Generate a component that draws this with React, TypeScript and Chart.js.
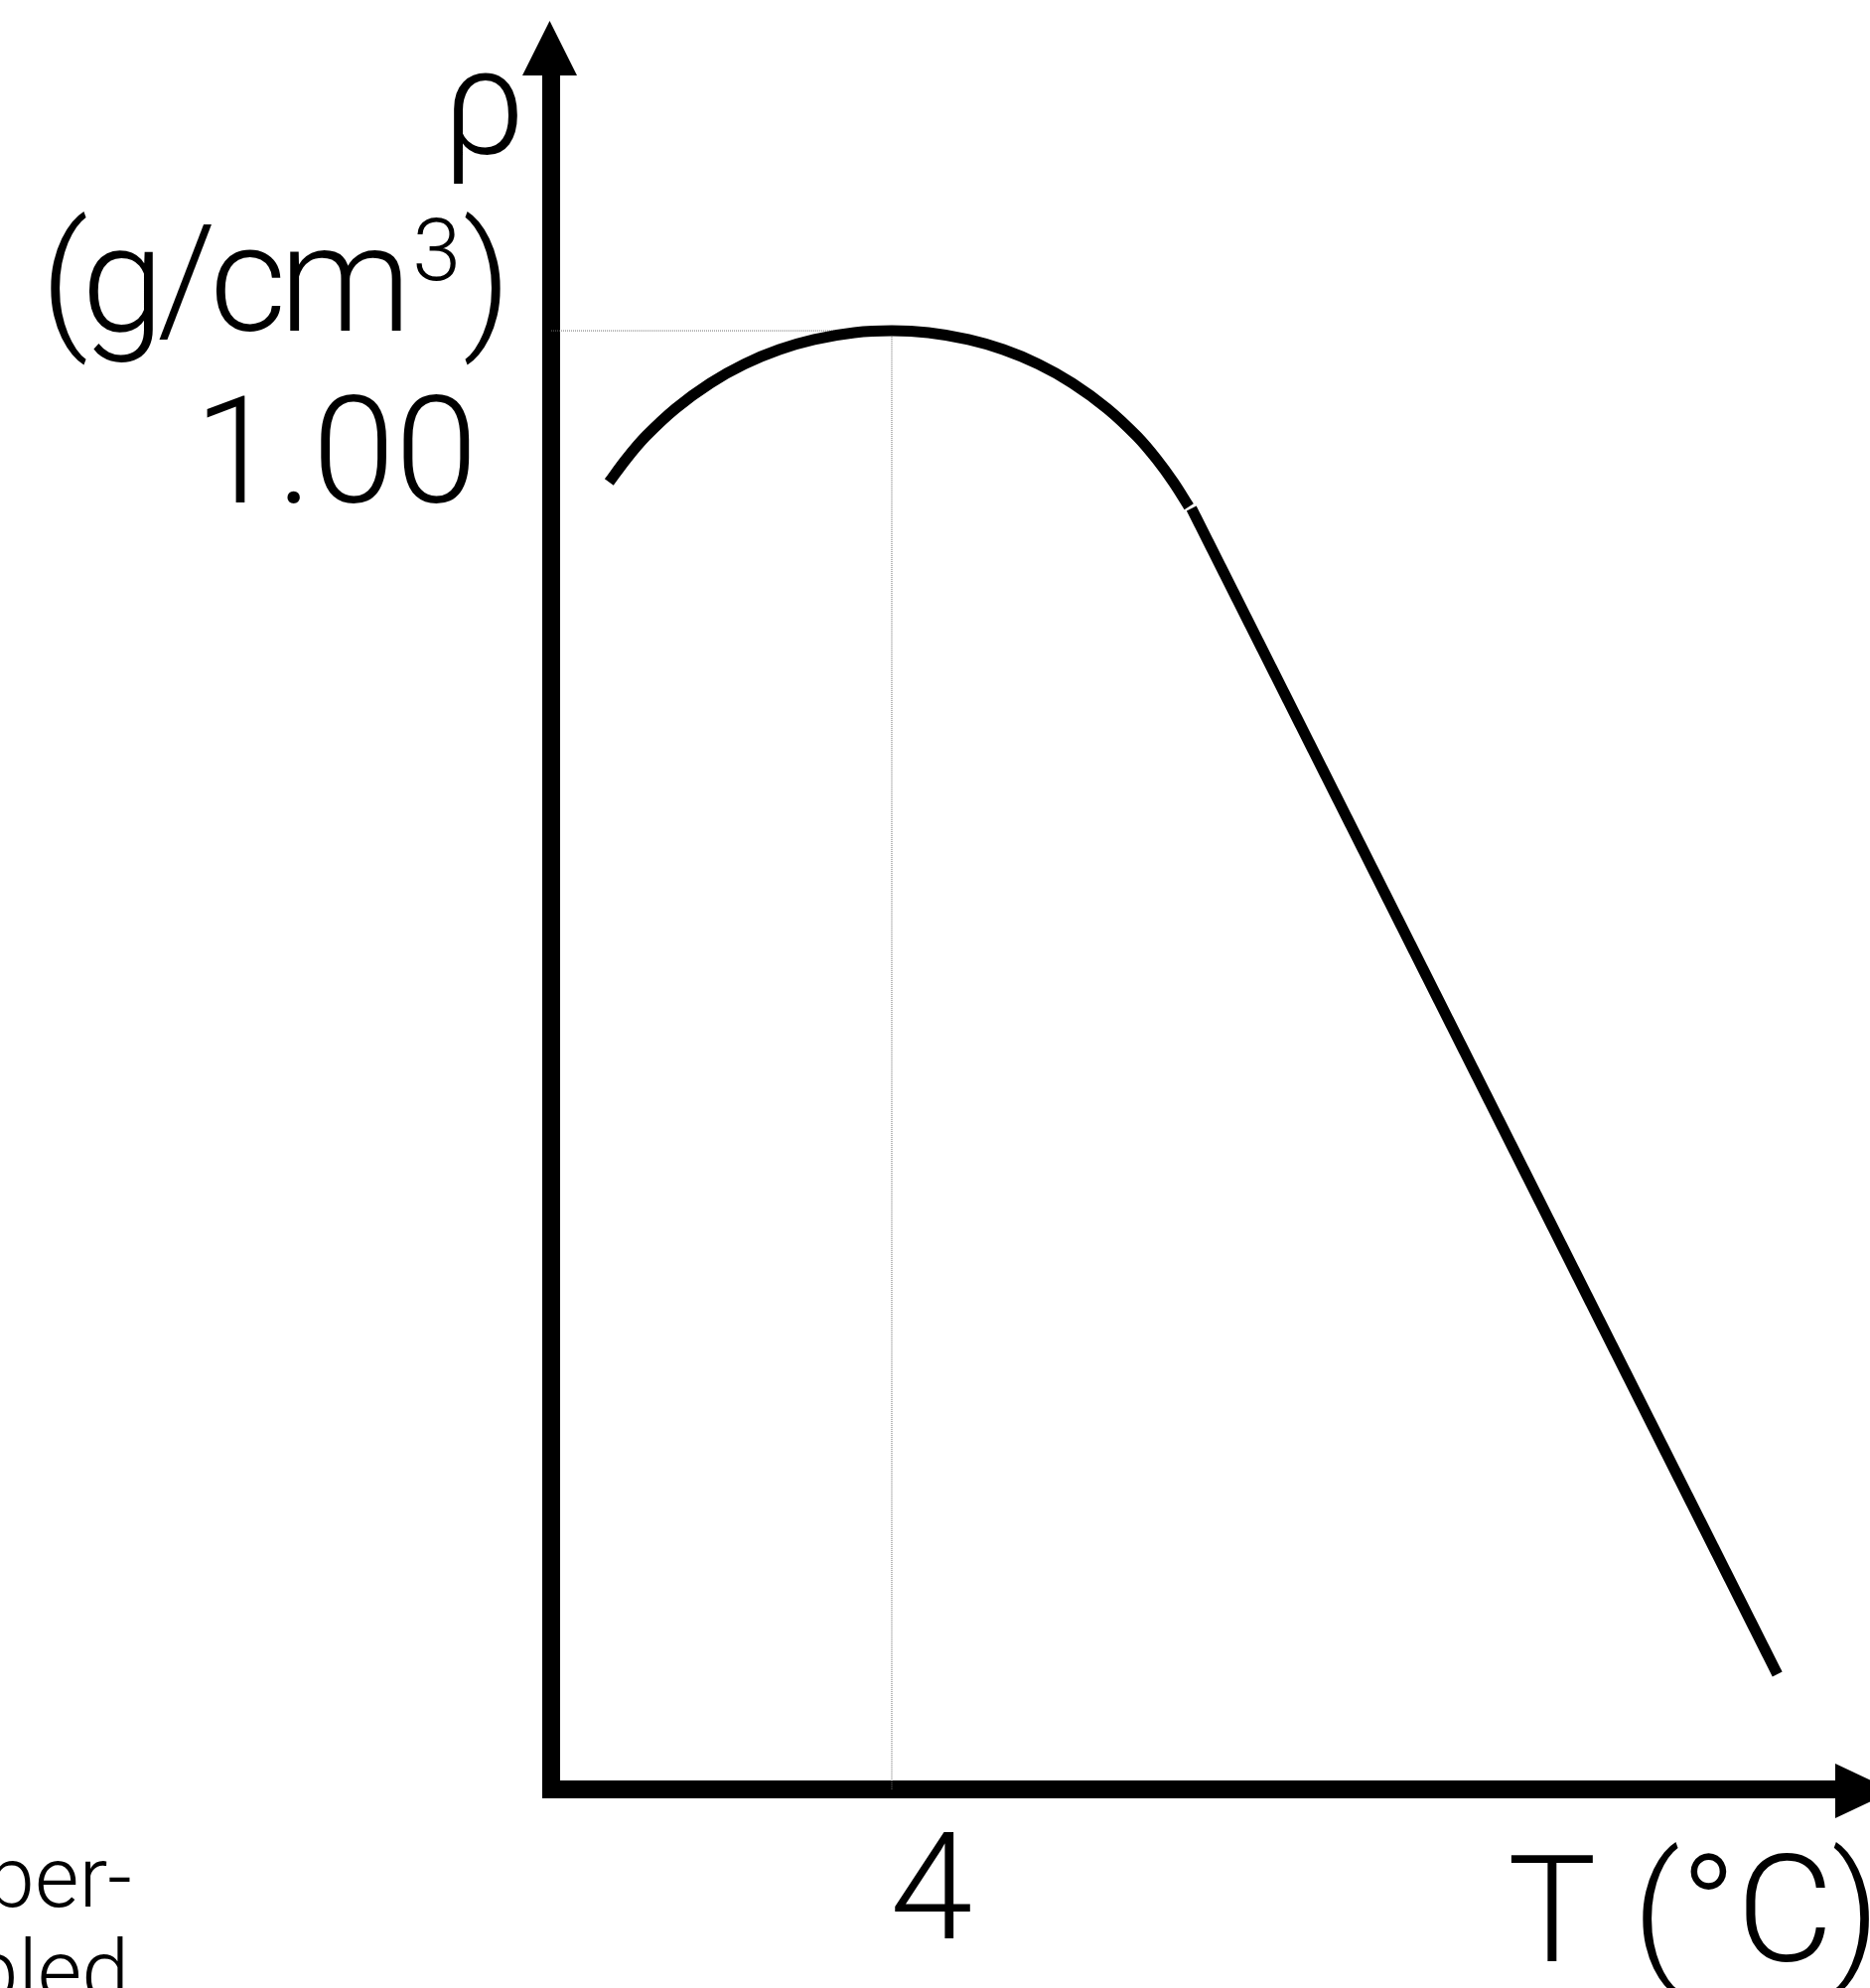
import React, { useEffect, useRef } from "react";
import { Chart, registerables } from "chart.js";

Chart.register(...registerables);

// Density of water near its maximum: a rounded cap peaking at 4 °C,
// followed by a straight falloff at higher temperatures.
const arcTemperature = [0.68, 0.88, 1.11, 1.46, 1.87, 2.27, 2.68, 3.09, 3.56, 4.0, 4.43, 4.9, 5.31, 5.72, 6.12, 6.53, 6.88, 7.11, 7.31, 7.49];
const arcDensity = [0.98754, 0.98943, 0.99131, 0.9936, 0.99569, 0.99726, 0.99845, 0.99928, 0.99984, 1.0, 0.99984, 0.99928, 0.99845, 0.99726, 0.99569, 0.9936, 0.99131, 0.98943, 0.98751, 0.98552];

const tailTemperature = [7.52, 14.4];
const tailDensity = [0.98538, 0.88948];

// Reference marks for the maximum
const peakTemperature = 4;
const peakDensity = 1.0;

// Axis ranges
const temperatureRange = [0, 15.08];
const densityRange = [0.88, 1.021];

// Labels
const xTickLabels = ["4"];
const yTickLabels = ["1.00"];
const yAxisSymbol = "ρ";
const yAxisUnitParts = ["(g/cm", "3", ")"];
const xAxisTitle = "T (°C)";
const sideNoteLines = ["per-", "pled"];

const FONT = 'Roboto, "Liberation Sans", Arial, sans-serif';
const WEIGHT = 350;

const toPoints = (xs: number[], ys: number[]) => xs.map((x, i) => ({ x, y: ys[i] }));

const decorPlugin = {
  id: "axisDecor",
  afterDraw(chart: any) {
    const { ctx, chartArea, scales } = chart;
    const xs = scales.x;
    const ys = scales.y;
    const L = chartArea.left;
    const B = chartArea.bottom;
    ctx.save();
    ctx.fillStyle = "#000";

    // arrowhead on the vertical axis
    const ax = L - 1.5;
    ctx.beginPath();
    ctx.moveTo(ax - 27.5, chartArea.top);
    ctx.lineTo(ax + 27.5, chartArea.top);
    ctx.lineTo(ax, chartArea.top - 55);
    ctx.closePath();
    ctx.fill();

    // arrowhead on the horizontal axis
    const ay = B + 1.5;
    ctx.beginPath();
    ctx.moveTo(chartArea.right, ay - 27.5);
    ctx.lineTo(chartArea.right, ay + 27.5);
    ctx.lineTo(chartArea.right + 58, ay);
    ctx.closePath();
    ctx.fill();

    const big = `${WEIGHT} 150px ${FONT}`;
    const sup = `${WEIGHT} 88px ${FONT}`;
    ctx.textBaseline = "alphabetic";

    // y-axis symbol
    ctx.font = big;
    ctx.textAlign = "right";
    ctx.fillText(yAxisSymbol, L - 26, 155);

    // unit with superscript, right edge just left of the axis
    const yPeak = ys.getPixelForValue(peakDensity);
    const tight = "-7px";
    ctx.font = big;
    (ctx as any).letterSpacing = tight;
    const w1 = ctx.measureText(yAxisUnitParts[0]).width;
    (ctx as any).letterSpacing = "0px";
    const w3 = ctx.measureText(yAxisUnitParts[2]).width;
    ctx.font = sup;
    const w2 = ctx.measureText(yAxisUnitParts[1]).width;
    const right = L - 40;
    let x0 = right - (w1 + w2 + w3 + 10);
    ctx.textAlign = "left";
    ctx.font = big;
    (ctx as any).letterSpacing = tight;
    ctx.fillText(yAxisUnitParts[0], x0, yPeak);
    (ctx as any).letterSpacing = "0px";
    x0 += w1 + 8;
    ctx.font = sup;
    ctx.fillText(yAxisUnitParts[1], x0, yPeak - 51);
    x0 += w2 + 2;
    ctx.font = big;
    ctx.fillText(yAxisUnitParts[2], x0, yPeak);

    // density tick label
    ctx.textAlign = "right";
    ctx.fillText(yTickLabels[0], L - 74, yPeak + 173);

    // temperature tick label
    ctx.textAlign = "center";
    ctx.fillText(xTickLabels[0], xs.getPixelForValue(peakTemperature) + 40, B + 150);

    // x-axis title
    ctx.textAlign = "left";
    ctx.fillText(xAxisTitle, 1518, B + 173);

    // side note at the lower left
    ctx.font = `${WEIGHT} 86px ${FONT}`;
    ctx.textAlign = "right";
    ctx.fillText(sideNoteLines[0], 133, B + 118);
    ctx.fillText(sideNoteLines[1], 130, B + 212);

    ctx.restore();
  },
};

export default function App() {
  const canvasRef = useRef<HTMLCanvasElement>(null);

  useEffect(() => {
    const canvas = canvasRef.current;
    if (!canvas) return;
    const curveStyle = {
      borderColor: "#000",
      borderWidth: 11,
      pointRadius: 0,
      borderCapStyle: "butt" as const,
      borderJoinStyle: "round" as const,
      fill: false,
    };
    const guideStyle = {
      borderColor: "#6e6e6e",
      borderWidth: 1,
      borderDash: [1, 1],
      pointRadius: 0,
      fill: false,
      tension: 0,
    };
    const chart = new Chart(canvas, {
      type: "line",
      data: {
        datasets: [
          {
            ...curveStyle,
            data: toPoints(arcTemperature, arcDensity),
            tension: 0.35,
            order: 0,
          },
          {
            ...curveStyle,
            data: toPoints(tailTemperature, tailDensity),
            tension: 0,
            order: 1,
          },
          {
            ...guideStyle,
            data: [
              { x: temperatureRange[0], y: peakDensity },
              { x: peakTemperature, y: peakDensity },
            ],
            order: 2,
          },
          {
            ...guideStyle,
            data: [
              { x: peakTemperature, y: peakDensity },
              { x: peakTemperature, y: densityRange[0] },
            ],
            order: 3,
          },
        ],
      },
      options: {
        responsive: false,
        animation: false,
        devicePixelRatio: 1,
        layout: { padding: { left: 555, right: 35, top: 76, bottom: 200 } },
        plugins: { legend: { display: false }, tooltip: { enabled: false } },
        scales: {
          x: {
            type: "linear",
            min: temperatureRange[0],
            max: temperatureRange[1],
            grid: { display: false, drawTicks: false },
            ticks: { display: false },
            border: { display: true, color: "#000", width: 18 },
          },
          y: {
            type: "linear",
            min: densityRange[0],
            max: densityRange[1],
            grid: { display: false, drawTicks: false },
            ticks: { display: false },
            border: { display: true, color: "#000", width: 18 },
          },
        },
      },
      plugins: [decorPlugin],
    });
    return () => chart.destroy();
  }, []);

  return (
    <canvas
      ref={canvasRef}
      width={1883}
      height={2002}
      style={{ position: "absolute", left: 0, top: 0, width: 1883, height: 2002, background: "#fff" }}
    />
  );
}
